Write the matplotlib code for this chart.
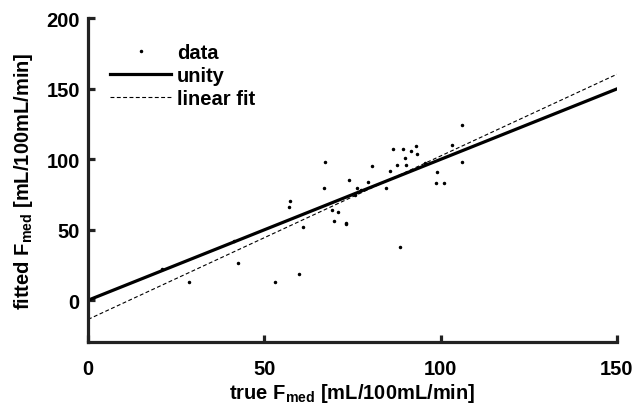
import numpy as np
import matplotlib.pyplot as plt

plt.rcParams['font.family'] = ['Liberation Sans', 'DejaVu Sans']
plt.rcParams['font.weight'] = 'bold'
plt.rcParams['mathtext.fontset'] = 'custom'
plt.rcParams['mathtext.bf'] = 'Liberation Sans:bold'
plt.rcParams['mathtext.rm'] = 'Liberation Sans:bold'

# data
true_f = [20.9, 28.6, 41.5, 42.4, 53.1, 56.9, 57.4, 59.9, 60.9, 67.1,
          67.0, 69.3, 69.7, 70.9, 73.2, 73.2, 74.1, 75.6, 76.2, 77.5,
          79.4, 80.6, 84.4, 85.5, 86.5, 87.7, 88.5, 89.4, 89.9, 90.2,
          91.7, 93.1, 93.3, 95.5, 98.7, 99.0, 100.9, 103.2, 106.0, 106.0]
fitted_f = [22.1, 12.7, 42.3, 26.6, 12.7, 66.1, 70.3, 18.3, 52.2, 97.8,
            79.5, 64.0, 56.2, 62.5, 55.0, 53.8, 85.6, 74.8, 79.9, 78.3,
            83.9, 95.0, 79.7, 91.7, 107.7, 95.7, 37.9, 107.7, 100.9, 95.7,
            105.6, 109.8, 103.7, 97.1, 83.5, 91.0, 83.5, 110.5, 124.4, 97.8]
unity_x = [0, 150]
unity_y = [0, 150]
fit_x = [0, 150]
fit_y = [-13.6, 160.4]

fs = 14.5

fig = plt.figure(figsize=(6.34, 4.06), dpi=100)
ax = fig.add_axes([0.139, 0.154, 0.834, 0.798])

ax.plot(true_f, fitted_f, '.', color='black', markersize=3, label='data')
ax.plot(unity_x, unity_y, '-', color='black', linewidth=2.3, label='unity')
ax.plot(fit_x, fit_y, '--', color='black', linewidth=0.8, dashes=(3.5, 2.2), label='linear fit')

ax.set_xlim(0, 150)
ax.set_ylim(-30, 200)
ax.set_xticks([0, 50, 100, 150])
ax.set_yticks([0, 50, 100, 150, 200])
ax.spines['top'].set_visible(False)
ax.spines['right'].set_visible(False)
for side in ['left', 'bottom']:
    ax.spines[side].set_linewidth(2.3)
    ax.spines[side].set_color('#222222')
ax.tick_params(direction='in', length=5, width=2.3, labelsize=fs, colors='#222222')
ax.tick_params(axis='x', pad=12)
ax.tick_params(axis='y', pad=6)
for lbl in ax.get_xticklabels() + ax.get_yticklabels():
    lbl.set_color('black')

ax.set_xlabel(r'true F$_\mathbf{med}$ [mL/100mL/min]', fontsize=fs, fontweight='bold', labelpad=2)
ax.set_ylabel(r'fitted F$_\mathbf{med}$ [mL/100mL/min]', fontsize=fs, fontweight='bold', labelpad=8)

ax.legend(loc='upper left', bbox_to_anchor=(0.042, 0.925), frameon=False, fontsize=fs,
          handlelength=3.0, handletextpad=0.3, labelspacing=0.2, borderpad=0, borderaxespad=0)

fig.savefig('out.png', dpi=100)
